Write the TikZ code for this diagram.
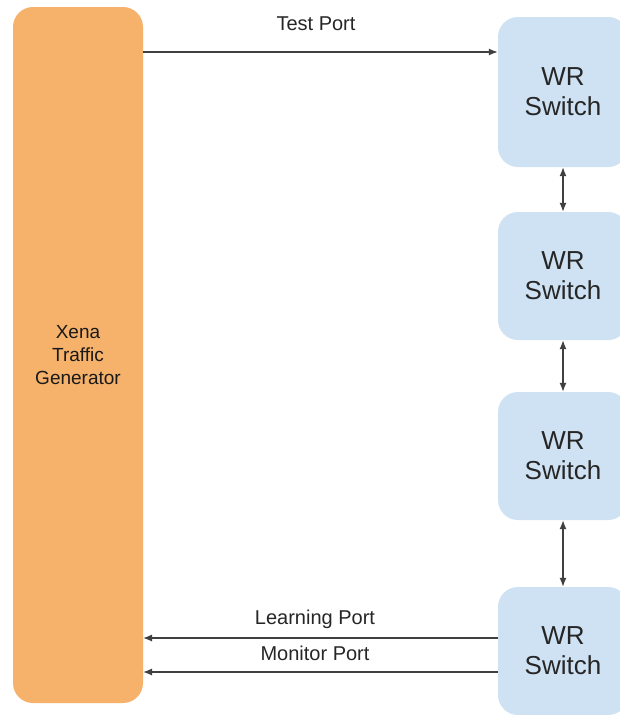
\documentclass[tikz,border=0pt]{standalone}
\usepackage{fontspec}
\setmainfont{Liberation Sans}
\usetikzlibrary{arrows.meta}
\definecolor{gen}{HTML}{F6B26B}
\definecolor{sw}{HTML}{CFE2F3}
\definecolor{ln}{HTML}{404040}
\begin{document}
\begin{tikzpicture}[x=1pt,y=-1pt,
  genbox/.style={fill=gen,rounded corners=20pt,minimum width=130pt,inner sep=0pt,align=center,font=\fontsize{19}{23}\selectfont,text=black!90},
  swbox/.style={fill=sw,rounded corners=20pt,minimum width=130pt,inner sep=0pt,align=center,font=\fontsize{26}{30}\selectfont,text=black!85},
  conn/.style={draw=ln,line width=1.3pt,-{Latex[length=9pt,width=7pt]}},
  biconn/.style={draw=ln,line width=1.3pt,{Latex[length=9pt,width=7pt]}-{Latex[length=9pt,width=7pt]}},
  lbl/.style={font=\fontsize{20}{24}\selectfont,text=black!85}]
\useasboundingbox (0,0) rectangle (620,715);
\fill[white] (0,0) rectangle (620,715);
\clip (0,0) rectangle (620,715);
\node[genbox,minimum height=696pt] (gen) at (78,355) {Xena\\Traffic\\Generator};
\node[swbox,minimum height=150pt] (s1) at (563,92) {WR\\Switch};
\node[swbox,minimum height=128pt] (s2) at (563,276) {WR\\Switch};
\node[swbox,minimum height=128pt] (s3) at (563,456) {WR\\Switch};
\node[swbox,minimum height=128pt] (s4) at (563,651) {WR\\Switch};
\coordinate (tp) at (143,52);
\coordinate (lp) at (143,638);
\coordinate (mp) at (143,672);
\draw[conn] (tp) -- (tp -| s1.west);
\draw[conn] (lp -| s4.west) -- (lp);
\draw[conn] (mp -| s4.west) -- (mp);
\draw[biconn] (s1.south) -- (s2.north);
\draw[biconn] (s2.south) -- (s3.north);
\draw[biconn] (s3.south) -- (s4.north);
\node[lbl] (tpl) at (316,24) {Test Port};
\node[lbl] (lpl) at (315,619) {Learning Port};
\node[lbl] (mpl) at (315,653) {Monitor Port};
\end{tikzpicture}
\end{document}
